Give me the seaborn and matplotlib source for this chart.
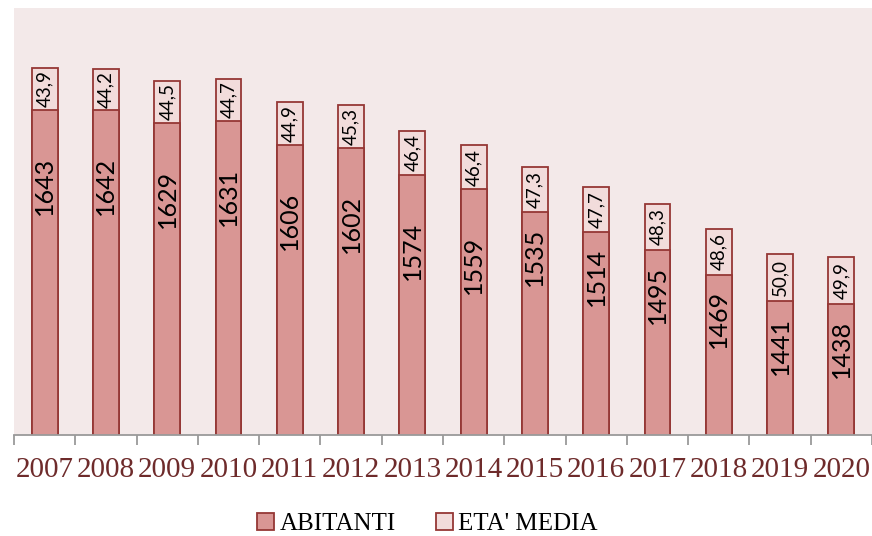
import matplotlib
matplotlib.use("Agg")
import matplotlib.pyplot as plt
import matplotlib.patches as mpatches
import seaborn as sns
import pandas as pd
import numpy as np

years = ["2007", "2008", "2009", "2010", "2011", "2012", "2013",
         "2014", "2015", "2016", "2017", "2018", "2019", "2020"]
abitanti = [1643, 1642, 1629, 1631, 1606, 1602, 1574,
            1559, 1535, 1514, 1495, 1469, 1441, 1438]
eta_media = [43.9, 44.2, 44.5, 44.7, 44.9, 45.3, 46.4,
             46.4, 47.3, 47.7, 48.3, 48.6, 50.0, 49.9]
series_names = ["ABITANTI", "ETA' MEDIA"]

df = pd.DataFrame({"anno": years, "abitanti": abitanti, "eta": eta_media})
df["totale"] = df["abitanti"] + df["eta"]

sns.set_theme(style="white")

c_ab = "#D99694"
c_eta = "#F2DCDB"
c_edge = "#953735"
bg = "#F3E9E9"

fig = plt.figure(figsize=(8.72, 5.36), dpi=100)
fig.patch.set_facecolor("white")
ax = fig.add_axes([14 / 872, (536 - 435) / 536, 1 - 14 / 872, (435 - 8) / 536])
ax.set_facecolor(bg)

sns.barplot(data=df, x="anno", y="totale", color=c_eta, saturation=1,
            edgecolor=c_edge, linewidth=1.3, width=0.42, ax=ax)
sns.barplot(data=df, x="anno", y="abitanti", color=c_ab, saturation=1,
            edgecolor=c_edge, linewidth=1.3, width=0.42, ax=ax)

ax.set_ylim(1300, 1750)
ax.set_xlim(-0.5, len(years) - 0.5)

for i, (a, e) in enumerate(zip(abitanti, eta_media)):
    off = 80 if a > 1550 else 47
    ax.text(i, a - off, f"{a}", rotation=90, ha="center", va="center",
            fontsize=18, family=["Lato", "DejaVu Sans"], color="black")
    ax.text(i, a + e / 2, f"{e:.1f}".replace(".", ","), rotation=90,
            ha="center", va="center", fontsize=13.5,
            family=["Lato", "DejaVu Sans"], color="black")

for s in ["top", "right", "left"]:
    ax.spines[s].set_visible(False)
ax.spines["bottom"].set_color("#9A9A9A")
ax.spines["bottom"].set_linewidth(1.3)
ax.set_yticks([])
ax.set_ylabel("")
ax.set_xlabel("")

ax.set_xticks(np.arange(-0.5, len(years), 1.0), minor=True)
ax.tick_params(axis="x", which="minor", length=7, width=1.3, color="#9A9A9A",
               direction="out", bottom=True)
ax.tick_params(axis="x", which="major", length=0, pad=16)
ax.set_xticks(range(len(years)))
ax.set_xticklabels(years, family="Liberation Serif", fontsize=21,
                   color="#6E2B2B")

handles = [mpatches.Patch(facecolor=c_ab, edgecolor=c_edge, linewidth=1.3),
           mpatches.Patch(facecolor=c_eta, edgecolor=c_edge, linewidth=1.3)]
leg = fig.legend(handles, series_names, loc="center", bbox_to_anchor=(0.49, 0.022),
                 ncol=2, frameon=False, handlelength=0.7, handleheight=0.7,
                 handletextpad=0.2, columnspacing=1.6,
                 prop={"family": "Liberation Serif", "size": 18})
for t in leg.get_texts():
    t.set_color("black")

fig.savefig("out.png", dpi=100, facecolor="white")
